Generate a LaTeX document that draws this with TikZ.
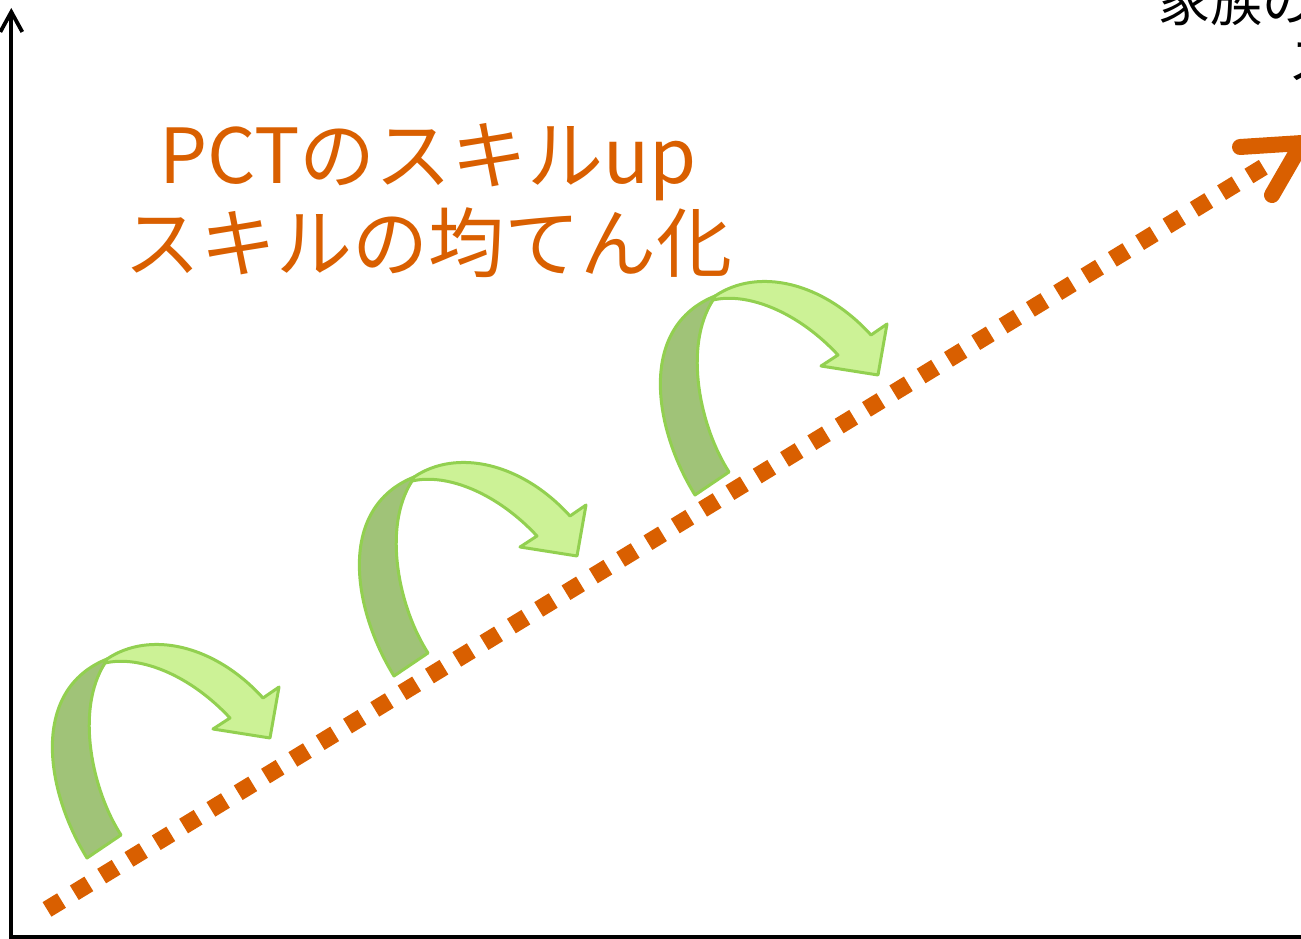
\documentclass[tikz,border=0pt]{standalone}
\usepackage{fontspec}
\newfontfamily\jp{Noto Sans CJK JP}
\usetikzlibrary{arrows.meta}
\definecolor{org}{RGB}{217,95,0}
\definecolor{gline}{RGB}{146,208,80}
\definecolor{glight}{RGB}{204,242,150}
\definecolor{gdark}{RGB}{160,195,120}
\tikzset{
  axis/.style={line width=3.8pt, black},
  dots/.style={org, line width=17pt, dash pattern=on 17pt off 15pt},
  chev/.style={org, line width=16pt, line cap=round, line join=round},
  orgtext/.style={org, font=\jp\fontsize{76}{82}\selectfont, anchor=base, inner sep=0pt},
  blktext/.style={black, font=\jp\fontsize{52}{58}\selectfont, anchor=base west, inner sep=0pt},
  gback/.style={draw=gline, fill=gdark, line width=3pt, line join=round},
  gfront/.style={draw=gline, fill=glight, line width=3pt, line join=round},
  grarrow/.pic={
    \filldraw[gback] (87,858) .. controls (45,790) and (30,690) .. (107,659)
      -- (105,663) .. controls (75,710) and (92,790) .. (121,835) -- cycle;
    \filldraw[gfront] (107,659) .. controls (150,630) and (215,645) .. (263,698)
      -- (279,687) -- (270,738) -- (213,729) -- (230,718)
      .. controls (190,675) and (140,655) .. (105,663) -- cycle;
  }
}
\begin{document}
\begin{tikzpicture}[x=1pt,y=-1pt]
\clip (0,0) rectangle (1301,939);
% axes
\coordinate (o) at (11.3,937.3);
\coordinate (ytop) at (11.3,8);
\coordinate (xend) at (1310,937.3);
\draw[axis, {Straight Barb[length=20pt,width=22pt]}-] (ytop) -- (o) -- (xend);
% dotted growth line
\coordinate (s) at (47.0,909.4);
\coordinate (e) at (1263.3,167.2);
\draw[dots] (s) -- (e);
\coordinate (ca) at (1240,147);
\coordinate (ct) at (1302,143);
\coordinate (cb) at (1272,195);
\draw[chev] (ca) -- (ct) -- (cb);
% green curved arrows
\pic at (0,0) {grarrow};
\pic at (307,-182) {grarrow};
\pic at (608,-363) {grarrow};
% texts
\node[orgtext] (t1) at (428,183) {PCTのスキルup};
\node[orgtext] (t2) at (428,271) {スキルの均てん化};
\node[blktext] (k1) at (1158,22) {家族の};
\node[blktext] (k2) at (1288,80) {ス};
\end{tikzpicture}
\end{document}
